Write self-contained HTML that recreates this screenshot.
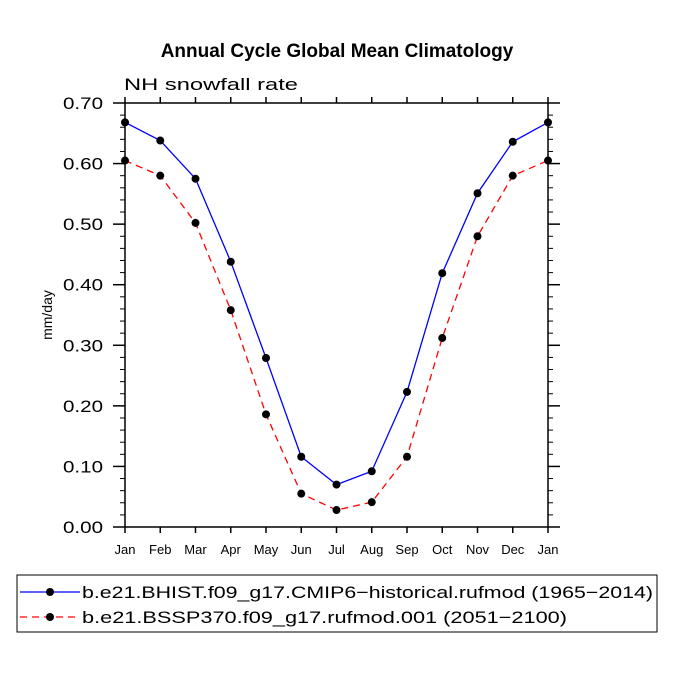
<!DOCTYPE html>
<html><head><meta charset="utf-8"><style>body{margin:0;background:#fff}svg text{font-family:"Liberation Sans",sans-serif}</style></head>
<body>
<svg id="c" width="675" height="675" xmlns="http://www.w3.org/2000/svg">
<text x="337" y="57" text-anchor="middle" font-size="19" font-weight="bold">Annual Cycle Global Mean Climatology</text>
<text x="124" y="90" font-size="17" textLength="174" lengthAdjust="spacingAndGlyphs">NH snowfall rate</text>
<text x="52" y="315" font-size="14" text-anchor="middle" transform="rotate(-90 52 315)">mm/day</text>
<rect x="125" y="103" width="423" height="424" fill="none" stroke="#000" stroke-width="1.5"/>
<g id="ax"></g><g id="series"></g>
<rect x="17" y="575" width="640" height="57" fill="none" stroke="#000"/>
<g>
<line x1="20" y1="592" x2="80" y2="592" stroke="#00f" stroke-width="1.3"/><circle cx="50" cy="592" r="4" fill="#000"/>
<text x="82" y="598" font-size="17" textLength="571" lengthAdjust="spacingAndGlyphs">b.e21.BHIST.f09_g17.CMIP6−historical.rufmod (1965−2014)</text></g>
<g>
<line x1="20" y1="617" x2="80" y2="617" stroke="#f00" stroke-width="1.3" stroke-dasharray="7,5"/><circle cx="50" cy="617" r="4" fill="#000"/>
<text x="82" y="623" font-size="17" textLength="485" lengthAdjust="spacingAndGlyphs">b.e21.BSSP370.f09_g17.rufmod.001 (2051−2100)</text></g>
</svg>
<script>
const months=["Jan","Feb","Mar","Apr","May","Jun","Jul","Aug","Sep","Oct","Nov","Dec","Jan"];
const histValues=[0.668,0.638,0.575,0.438,0.279,0.116,0.070,0.092,0.223,0.419,0.551,0.636,0.668];
const sspValues=[0.605,0.580,0.502,0.358,0.186,0.055,0.028,0.041,0.116,0.312,0.480,0.580,0.605];
const yTicks=["0.00","0.10","0.20","0.30","0.40","0.50","0.60","0.70"];
const NS="http://www.w3.org/2000/svg";
const X0=125,X1=548,Y0=527,Y1=103,YMAX=0.7;
const xs=i=>X0+(X1-X0)*i/(months.length-1);
const ys=v=>Y0-(Y0-Y1)*v/YMAX;
function mk(t,a,p){const e=document.createElementNS(NS,t);for(const k in a)e.setAttribute(k,a[k]);p.appendChild(e);return e;}
const ax=document.getElementById('ax');
months.forEach((m,i)=>{const x=xs(i);
mk('line',{x1:x,y1:Y0,x2:x,y2:Y0+6,stroke:'#000','stroke-width':1.5},ax);
mk('line',{x1:x,y1:Y1,x2:x,y2:Y1-6,stroke:'#000','stroke-width':1.5},ax);
const t=mk('text',{x:x,y:Y0+27,'text-anchor':'middle','font-size':13},ax);t.textContent=m;

});
yTicks.forEach((l,i)=>{const v=parseFloat(l),y=ys(v);
mk('line',{x1:X0-12,y1:y,x2:X0,y2:y,stroke:'#000','stroke-width':1.5},ax);
mk('line',{x1:X1,y1:y,x2:X1+12,y2:y,stroke:'#000','stroke-width':1.5},ax);
const t=mk('text',{x:X0-22,y:y+6,'text-anchor':'end','font-size':17,textLength:40,lengthAdjust:'spacingAndGlyphs'},ax);t.textContent=l;


if(i<yTicks.length-1)for(let k=1;k<5;k++){const yy=ys(v+0.02*k);
mk('line',{x1:X0-5,y1:yy,x2:X0,y2:yy,stroke:'#000'},ax);
mk('line',{x1:X1,y1:yy,x2:X1+5,y2:yy,stroke:'#000'},ax);}});
const sg=document.getElementById('series');
function draw(vals,col,dash,name){
const pl=mk('polyline',{points:vals.map((v,i)=>xs(i)+','+ys(v)).join(' '),fill:'none',stroke:col,'stroke-width':1.3},sg);
if(dash)pl.setAttribute('stroke-dasharray',dash);


vals.forEach((v,i)=>{const c=mk('circle',{cx:xs(i),cy:ys(v),r:4,fill:'#000'},sg);

});}
draw(sspValues,'#f00','7,5','ssp370');
draw(histValues,'#00f',null,'historical');
</script>
</body></html>
